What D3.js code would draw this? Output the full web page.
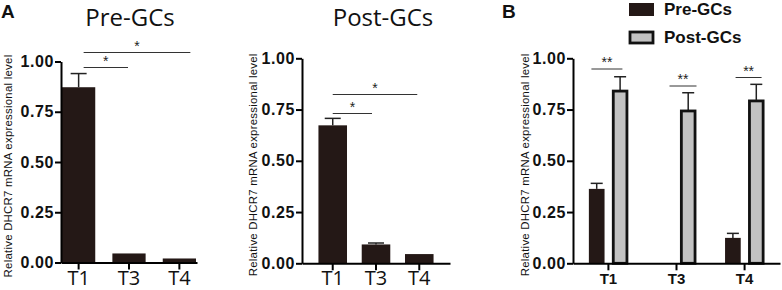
<!DOCTYPE html>
<html>
<head>
<meta charset="utf-8">
<script src="https://cdn.jsdelivr.net/npm/d3@7"></script>
<style>
body { margin: 0; background: #fff; }
svg { display: block; }
</style>
</head>
<body>
<div id="chart"></div>
<script>
// data
var groups = ["T1", "T3", "T4"];
var preMean = [0.872, 0.045, 0.02];
var preErr = [0.068, 0, 0];
var postMean = [0.673, 0.092, 0.045];
var postErr = [0.034, 0.007, 0];
var bPreMean = [0.363, 0, 0.124];
var bPreErr = [0.027, 0, 0.022];
var bPostMean = [0.845, 0.748, 0.797];
var bPostErr = [0.065, 0.084, 0.076];
var yTicks = [0, 0.25, 0.5, 0.75, 1.0];
var seriesNames = ["Pre-GCs", "Post-GCs"];
var yLabel = "Relative DHCR7 mRNA expressional level";

var darkFill = "#241816";
var grayFill = "#c2c2c2";

var svg = d3.select("#chart").append("svg")
    .attr("width", 782)
    .attr("height", 290);

function yAxisBlock(g, y, x0, labelX) {
    g.append("g")
        .attr("transform", "translate(" + x0 + ",0)")
        .call(d3.axisLeft(y).tickValues(yTicks).tickFormat(d3.format(".2f")).tickSize(6).tickSizeOuter(0))
        .call(function (a) {
            a.select(".domain").attr("stroke", "#000").attr("stroke-width", 2);
            a.selectAll(".tick line").attr("stroke", "#000").attr("stroke-width", 2);
            a.selectAll(".tick text")
                .attr("font-family", "Liberation Sans, Arial, sans-serif")
                .attr("font-weight", "bold")
                .attr("font-size", 16)
                .attr("letter-spacing", 0.6)
                .attr("fill", "#111")
                .attr("x", -7);
        });

    g.append("text")
        .attr("transform", "translate(" + labelX + "," + ((y(0) + y(1)) / 2 + 4) + ") rotate(-90)")
        .attr("text-anchor", "middle")
        .attr("font-family", "Liberation Sans, Arial, sans-serif")
        .attr("font-size", 11.4)
        .attr("letter-spacing", 0.25)
        .attr("fill", "#111")
        .text(yLabel);
}

function bracket(g, x1, x2, yPos, label) {
    g.append("line")
        .attr("x1", x1).attr("x2", x2)
        .attr("y1", yPos).attr("y2", yPos)
        .attr("stroke", "#333").attr("stroke-width", 1);
    g.append("text")
        .attr("x", (x1 + x2) / 2)
        .attr("y", yPos - 2)
        .attr("text-anchor", "middle")
        .attr("font-family", "Liberation Sans, Arial, sans-serif")
        .attr("font-size", 14)
        .attr("fill", "#222")
        .text(label);
}

function errBar(g, cx, top, bottom, half) {
    g.append("line").attr("x1", cx).attr("x2", cx).attr("y1", top).attr("y2", bottom)
        .attr("stroke", "#222").attr("stroke-width", 1.5);
    g.append("line").attr("x1", cx - half).attr("x2", cx + half).attr("y1", top).attr("y2", top)
        .attr("stroke", "#222").attr("stroke-width", 1.5);
}

// single-series panel (A)
function singlePanel(opt) {
    var g = svg.append("g");
    var y = d3.scaleLinear().domain([0, 1]).range([opt.y0, opt.y1]);
    var x = d3.scaleBand().domain(groups).range([opt.x0, opt.x1]).paddingInner(opt.pad).paddingOuter(opt.padOuter);

    opt.means.forEach(function (m, i) {
        var bx = x(groups[i]);
        if (opt.errs[i] > 0) errBar(g, bx + x.bandwidth() / 2, y(m + opt.errs[i]), y(m), 8);
        g.append("rect")
            .attr("x", bx).attr("width", x.bandwidth())
            .attr("y", y(m)).attr("height", y(0) - y(m))
            .attr("fill", darkFill);
    });

    yAxisBlock(g, y, opt.x0, opt.labelX);

    g.append("g")
        .attr("transform", "translate(0," + opt.y0 + ")")
        .call(d3.axisBottom(x).tickSize(7).tickSizeOuter(0))
        .call(function (a) {
            a.select(".domain").attr("stroke", "#000").attr("stroke-width", 2);
            a.selectAll(".tick line").attr("stroke", "#000").attr("stroke-width", 2);
            a.selectAll(".tick text")
                .attr("font-family", "Open Sans, Liberation Sans, sans-serif")
                .attr("font-size", 20)
                .attr("fill", "#111")
                .attr("y", 8);
        });

    g.append("text")
        .attr("x", opt.titleX).attr("y", opt.titleY)
        .attr("text-anchor", "middle")
        .attr("font-family", "Open Sans, sans-serif")
        .attr("font-size", 24)
        .attr("fill", "#111")
        .text(opt.title);

    opt.brackets.forEach(function (b) {
        bracket(g, x(groups[b[0]]) + x.bandwidth() / 2 + b[3], x(groups[b[1]]) + x.bandwidth() / 2 + b[4], b[2], "*");
    });
}

singlePanel({
    x0: 61, x1: 197, y0: 262.5, y1: 61.5, pad: 0.34, padOuter: 0.02,
    means: preMean, errs: preErr, labelX: 12,
    title: seriesNames[0], titleX: 130, titleY: 26,
    brackets: [[0, 1, 67.5, 5, -1], [0, 2, 52.5, 5, 11]]
});

singlePanel({
    x0: 302, x1: 450, y0: 263.3, y1: 58.3, pad: 0.34, padOuter: 0.38,
    means: postMean, errs: postErr, labelX: 257,
    title: seriesNames[1], titleX: 383, titleY: 26,
    brackets: [[0, 1, 113.5, 0, -4], [0, 2, 94.5, 0, -2]]
});

// grouped panel (B)
(function () {
    var g = svg.append("g");
    var y = d3.scaleLinear().domain([0, 1]).range([263.3, 58.3]);
    var x = d3.scaleBand().domain(groups).range([573, 780]).paddingInner(0).paddingOuter(0.02);
    var xs = d3.scaleBand().domain(seriesNames).range([0, x.bandwidth()]).paddingInner(0.33).paddingOuter(0.62);

    var rows = groups.map(function (gname, i) {
        return [
            { key: seriesNames[0], g: gname, m: bPreMean[i], e: bPreErr[i] },
            { key: seriesNames[1], g: gname, m: bPostMean[i], e: bPostErr[i] }
        ];
    });

    rows.forEach(function (pair) {
        pair.forEach(function (d) {
            if (d.m <= 0) return;
            var bx = x(d.g) + xs(d.key);
            if (d.e > 0) errBar(g, bx + xs.bandwidth() / 2, y(d.m + d.e), y(d.m), 6);
            var isPost = d.key === seriesNames[1];
            g.append("rect")
                .attr("x", bx + (isPost ? 1 : 0)).attr("width", xs.bandwidth() - (isPost ? 2 : 0))
                .attr("y", y(d.m) + (isPost ? 1 : 0)).attr("height", y(0) - y(d.m) - (isPost ? 1 : 0))
                .attr("fill", isPost ? grayFill : darkFill)
                .attr("stroke", isPost ? "#111" : "none")
                .attr("stroke-width", 2.8);
        });
    });

    yAxisBlock(g, y, 573, 529);

    g.append("g")
        .attr("transform", "translate(0,263.3)")
        .call(d3.axisBottom(x).tickSize(7).tickSizeOuter(0))
        .call(function (a) {
            a.select(".domain").attr("stroke", "#000").attr("stroke-width", 2);
            a.selectAll(".tick line").attr("stroke", "#000").attr("stroke-width", 2);
            a.selectAll(".tick text")
                .attr("font-family", "Liberation Sans, Arial, sans-serif")
                .attr("font-weight", "bold")
                .attr("font-size", 15)
                .attr("fill", "#111")
                .attr("y", 10);
        });

    var bl = [[69, -17, 14], [86, -7, 20], [77.5, -9, 17]];
    groups.forEach(function (gname, i) {
        var c = x(gname) + x.bandwidth() / 2;
        bracket(g, c + bl[i][1], c + bl[i][2], bl[i][0], "**");
    });

    // legend
    var legend = g.append("g").selectAll("g")
        .data(seriesNames)
        .enter().append("g")
        .attr("transform", function (d, i) { return "translate(629," + (3 + i * 28) + ")"; });
    legend.append("rect")
        .attr("x", function (d, i) { return i ? 1 : 0; })
        .attr("y", function (d, i) { return i ? 1 : 0; })
        .attr("width", function (d, i) { return i ? 23 : 25; })
        .attr("height", function (d, i) { return i ? 11 : 13; })
        .attr("fill", function (d, i) { return i ? grayFill : darkFill; })
        .attr("stroke", function (d, i) { return i ? "#111" : "none"; })
        .attr("stroke-width", 2.8);
    legend.append("text")
        .attr("x", 35).attr("y", 12)
        .attr("font-family", "Liberation Sans, Arial, sans-serif")
        .attr("font-weight", "bold")
        .attr("font-size", 17)
        .attr("fill", "#111")
        .text(function (d) { return d; });
})();

// panel letters
svg.append("text").attr("x", 1).attr("y", 18)
    .attr("font-family", "Liberation Sans, Arial, sans-serif").attr("font-weight", "bold")
    .attr("font-size", 19).attr("fill", "#111").text("A");
svg.append("text").attr("x", 502).attr("y", 18)
    .attr("font-family", "Liberation Sans, Arial, sans-serif").attr("font-weight", "bold")
    .attr("font-size", 19).attr("fill", "#111").text("B");
</script>
</body>
</html>
